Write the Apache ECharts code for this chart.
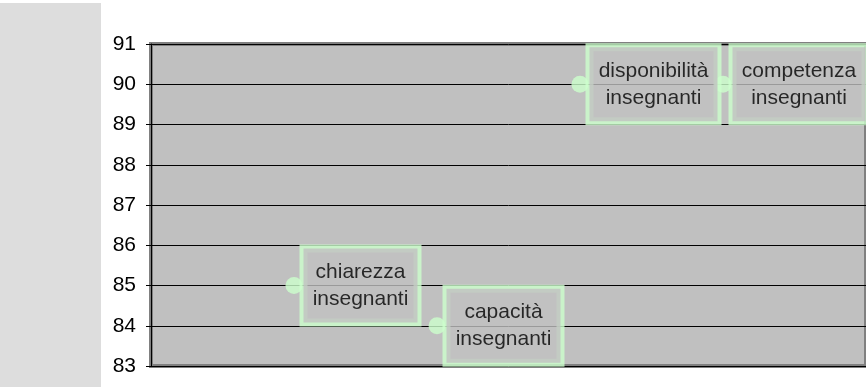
<!DOCTYPE html>
<html>
<head>
<meta charset="utf-8">
<script src="https://cdn.jsdelivr.net/npm/echarts@6/dist/echarts.min.js"></script>
<style>
  html, body { margin: 0; padding: 0; background: #ffffff; }
  #chart { width: 866px; height: 387px; }
</style>
</head>
<body>
<div id="chart"></div>
<script>
// dati
const categorie = ["chiarezza insegnanti", "capacità insegnanti", "disponibilità insegnanti", "competenza insegnanti"];
const posizioniX = [1, 2, 3, 4];
const valori = [85, 84, 90, 90];
const tickY = [83, 84, 85, 86, 87, 88, 89, 90, 91];

const FONT = "Liberation Sans, Arial, sans-serif";
const FONT_SIZE = 21;

// larghezza della riga più lunga, per centrare le due righe nel riquadro
const ctx = document.createElement("canvas").getContext("2d");
ctx.font = FONT_SIZE + "px " + FONT;
const larghezza = (txt) => Math.max(...txt.split(" ").map((r) => ctx.measureText(r).width));

const chart = echarts.init(document.getElementById("chart"));

const punti = categorie.map((nome, i) => ({
  name: nome,
  value: [posizioniX[i], valori[i]],
  label: {
    rich: {
      t: {
        width: Math.ceil(larghezza(nome)),
        align: "center",
        fontSize: FONT_SIZE,
        lineHeight: 27,
        fontFamily: FONT,
        color: "#000000",
      },
    },
  },
}));

const option = {
  backgroundColor: "#ffffff",
  animation: false,
  graphic: [
    {
      type: "rect",
      shape: { x: 0, y: 3, width: 101, height: 384 },
      style: { fill: "#dddddd" },
      z: -10,
    },
  ],
  grid: {
    left: 151,
    top: 44,
    bottom: 21,
    right: -3,
    show: true,
    backgroundColor: "#c0c0c0",
    borderColor: "#808080",
    borderWidth: 4,
  },
  xAxis: {
    type: "value",
    min: 0,
    max: 5,
    show: false,
  },
  yAxis: {
    type: "value",
    min: tickY[0],
    max: tickY[tickY.length - 1],
    interval: 1,
    axisLine: { show: true, lineStyle: { color: "#000000", width: 1 } },
    axisTick: { show: true, length: 5, lineStyle: { color: "#000000" } },
    axisLabel: {
      fontSize: 21,
      color: "#000000",
      fontFamily: FONT,
      margin: 15,
    },
    splitLine: { show: true, lineStyle: { color: "#000000", width: 1 } },
  },
  series: [
    {
      type: "scatter",
      data: punti,
      symbol: "circle",
      symbolSize: 17,
      itemStyle: { color: "#ccffcc" },
      label: {
        show: true,
        position: "right",
        distance: 1,
        formatter: (p) => p.name.split(" ").map((r) => "{t|" + r + "}").join("\n"),
        backgroundColor: "#c0c0c0",
        borderColor: "#ccffcc",
        borderWidth: 4,
        padding: [10, 9],
      },
    },
  ],
};

chart.setOption(option);
</script>
</body>
</html>
